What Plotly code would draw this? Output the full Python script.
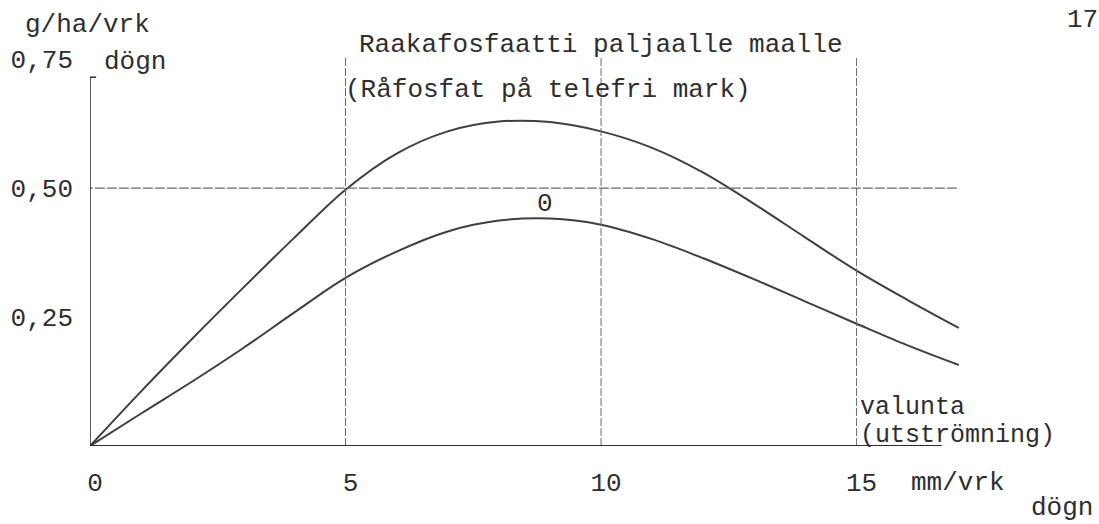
import plotly.graph_objects as go

# ---- data ----
runoff_mm = [0, 1, 2, 3, 4, 5, 6, 7, 8, 9, 10, 11, 12, 13, 14, 15, 16, 17]
curve_1 = [0, 0.106, 0.208, 0.307, 0.404, 0.497, 0.567, 0.610, 0.629, 0.628, 0.610,
           0.578, 0.530, 0.469, 0.404, 0.340, 0.283, 0.229]
curve_0 = [0, 0.063, 0.125, 0.190, 0.259, 0.326, 0.377, 0.416, 0.437, 0.441, 0.429,
           0.401, 0.364, 0.323, 0.280, 0.237, 0.195, 0.157]

x_tick_vals = [0, 5, 10, 15]
x_tick_text = ["0", "5", "10", "15"]
y_tick_vals = [0.25, 0.50, 0.75]
y_tick_text = ["0,25", "0,50", "0,75"]

FONT = "Liberation Mono, Courier New, monospace"
FS = 26
INK = "#2e2e2e"
LINE = "#3f3f3f"
GRID = "#6a6a6a"

fig = go.Figure()
for ys in (curve_1, curve_0):
    fig.add_trace(go.Scatter(x=runoff_mm, y=ys, mode="lines",
                             line=dict(color=LINE, width=2, shape="spline", smoothing=1.0),
                             showlegend=False, hoverinfo="skip"))

shapes = []
# vertical grid lines at the x ticks (except 0)
for xv in x_tick_vals[1:]:
    shapes.append(dict(type="line", xref="x", yref="y", x0=xv, x1=xv, y0=0, y1=0.755,
                       line=dict(color=GRID, width=1, dash="8px,2px")))
# horizontal line at 0.50
shapes.append(dict(type="line", xref="x", yref="y", x0=-0.14, x1=17, y0=0.5, y1=0.5,
                   line=dict(color=GRID, width=1.2, dash="10px,2px")))
# axes
shapes.append(dict(type="line", xref="x", yref="y", x0=0, x1=16.67, y0=0, y1=0,
                   line=dict(color=INK, width=2)))
shapes.append(dict(type="line", xref="x", yref="y", x0=0, x1=0, y0=0, y1=0.715,
                   line=dict(color=INK, width=1.6)))
# y tick marks
shapes.append(dict(type="line", xref="x", yref="y", x0=-0.15, x1=0, y0=0.25, y1=0.25,
                   line=dict(color=INK, width=1.5)))
shapes.append(dict(type="line", xref="x", yref="y", x0=-0.12, x1=0.12, y0=0.715, y1=0.715,
                   line=dict(color=INK, width=1.5)))

ann = []
def txt(x, y, s, xanchor="left", xref="paper", yref="paper", size=FS):
    ann.append(dict(x=x, y=y, xref=xref, yref=yref, text=s, showarrow=False,
                    xanchor=xanchor, yanchor="middle", borderpad=0,
                    font=dict(family=FONT, size=size, color=INK)))

# pixel helpers -> paper coords
L, R, T, B = 90, 969, 54, 446
def px(xp):
    return (xp - L) / (R - L)
def py(yp):
    return (B - yp) / (B - T)

txt(px(24), py(25), "g/ha/vrk")
txt(px(103), py(62), "dögn")
txt(px(358), py(45), "Raakafosfaatti paljaalle maalle")
txt(px(344), py(90), "(Råfosfat på telefri mark)")
txt(8.9, 0.47, "0", xanchor="center", xref="x", yref="y")
txt(px(859), py(407), "valunta", size=25)
txt(px(859), py(435), "(utströmning)", size=25)
txt(px(910), py(483), "mm/vrk")
txt(px(1030), py(508), "dögn")
txt(px(1099), py(20), "17", xanchor="right")

fig.update_layout(
    width=1099, height=524,
    margin=dict(l=L, r=1099 - R, t=T, b=524 - B),
    paper_bgcolor="white", plot_bgcolor="white",
    shapes=shapes, annotations=ann,
    xaxis=dict(range=[0, 17.2], tickvals=x_tick_vals, ticktext=x_tick_text,
               showgrid=False, zeroline=False, showline=False, ticks="",
               ticklabelstandoff=18, ticklabelshift=5, automargin=False,
               tickfont=dict(family=FONT, size=FS, color=INK)),
    yaxis=dict(range=[0, 0.76], tickvals=y_tick_vals, ticktext=y_tick_text,
               showgrid=False, zeroline=False, showline=False, ticks="",
               ticklabelstandoff=16, automargin=False,
               tickfont=dict(family=FONT, size=FS, color=INK)),
)

fig.write_html("out.html", config={"displayModeBar": False},
               post_script="document.body.style.margin='0px';")
